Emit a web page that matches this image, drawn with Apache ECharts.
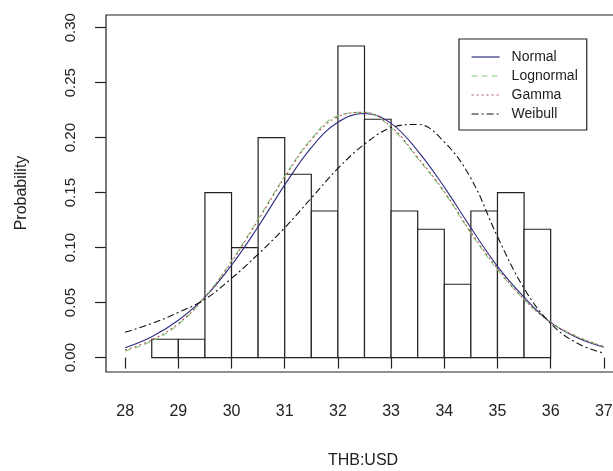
<!DOCTYPE html>
<html>
<head>
<meta charset="utf-8">
<script src="https://cdn.jsdelivr.net/npm/echarts@6/dist/echarts.min.js"></script>
<style>
  html, body { margin: 0; padding: 0; background: #fff; }
  #chart { width: 613px; height: 471px; }
</style>
</head>
<body>
<div id="chart"></div>
<script>
// histogram bins (left edge) and density heights
const binStarts = [28.5, 29, 29.5, 30, 30.5, 31, 31.5, 32, 32.5, 33, 33.5, 34, 34.5, 35, 35.5]
const binWidth = 0.5
const densities = [0.0167, 0.0167, 0.15, 0.1, 0.2, 0.1667, 0.1333, 0.2833, 0.2167, 0.1333, 0.1167, 0.0667, 0.1333, 0.15, 0.1167]

const curveX = [28, 28.5, 29, 29.5, 30, 30.5, 31, 31.5, 32, 32.5, 33, 33.5, 34, 34.5, 35, 35.5, 36, 36.5, 37]
const normalY = [0.009, 0.019, 0.034, 0.055, 0.084, 0.119, 0.157, 0.191, 0.214, 0.222, 0.213, 0.188, 0.155, 0.118, 0.083, 0.055, 0.032, 0.018, 0.0095]
const lognormalY = [0.006, 0.015, 0.030, 0.055, 0.088, 0.126, 0.165, 0.199, 0.220, 0.223, 0.209, 0.181, 0.150, 0.113, 0.080, 0.053, 0.032, 0.019, 0.010]
const gammaY = [0.007, 0.016, 0.031, 0.055, 0.087, 0.125, 0.164, 0.198, 0.219, 0.223, 0.210, 0.182, 0.151, 0.114, 0.081, 0.053, 0.032, 0.019, 0.010]
const weibullY = [0.023, 0.031, 0.041, 0.053, 0.072, 0.094, 0.118, 0.145, 0.172, 0.194, 0.209, 0.212, 0.196, 0.163, 0.110, 0.063, 0.031, 0.013, 0.004]

const xTicks = [28, 29, 30, 31, 32, 33, 34, 35, 36, 37]
const yTicks = [0, 0.05, 0.1, 0.15, 0.2, 0.25, 0.3]

const font = 'Liberation Sans, Arial, sans-serif'
const pairs = ys => curveX.map((x, i) => [x, ys[i]])

const chart = echarts.init(document.getElementById('chart'), null, { renderer: 'canvas' })

const curve = (name, ys, color, type) => ({
  name,
  type: 'line',
  data: pairs(ys),
  smooth: 0.4,
  symbol: 'none',
  z: 5,
  lineStyle: { color, width: 1.1, type },
  itemStyle: { color }
})

chart.setOption({
  animation: false,
  backgroundColor: '#fff',
  grid: {
    left: 106, top: 15, width: 517, height: 357,
    outerBoundsMode: 'none',
    show: true, borderColor: '#222', borderWidth: 1.2, backgroundColor: 'transparent'
  },
  xAxis: {
    type: 'value',
    min: 27.64, max: 37.36,
    axisLine: { show: false },
    splitLine: { show: false },
    axisTick: {
      show: true, length: 11, inside: false,
      customValues: xTicks,
      lineStyle: { color: '#222', width: 1.2 }
    },
    axisLabel: {
      customValues: xTicks,
      margin: 32,
      fontSize: 16, fontFamily: font, color: '#222'
    }
  },
  yAxis: {
    type: 'value',
    min: -0.0131, max: 0.3115,
    axisLine: { show: false },
    splitLine: { show: false },
    axisTick: {
      show: true, length: 11, inside: false,
      customValues: yTicks,
      lineStyle: { color: '#222', width: 1.2 }
    },
    axisLabel: {
      customValues: yTicks,
      rotate: 90,
      margin: 28,
      formatter: v => v.toFixed(2),
      fontSize: 15, fontFamily: font, color: '#222'
    }
  },
  legend: {
    data: ['Normal', 'Lognormal', 'Gamma', 'Weibull'],
    orient: 'vertical',
    left: 459, top: 39,
    padding: [11, 9, 9, 12],
    itemGap: 5,
    itemWidth: 28, itemHeight: 12,
    itemStyle: { opacity: 0 },
    lineStyle: { width: 1.2 },
    borderColor: '#222', borderWidth: 1.2,
    backgroundColor: '#fff',
    textStyle: { fontSize: 14, fontFamily: font, color: '#222', padding: [0, 0, 0, 7] }
  },
  graphic: [
    {
      type: 'text', x: 22, y: 193, rotation: Math.PI / 2,
      style: { text: 'Probability', font: '16px ' + font, fill: '#222', textAlign: 'center', textVerticalAlign: 'middle' }
    },
    {
      type: 'text', x: 363, y: 461,
      style: { text: 'THB:USD', font: '16px ' + font, fill: '#222', textAlign: 'center', textVerticalAlign: 'middle' }
    }
  ],
  series: [
    {
      name: 'hist',
      type: 'custom',
      z: 2,
      data: binStarts.map((s, i) => [s, s + binWidth, densities[i]]),
      encode: { x: [0, 1], y: 2 },
      renderItem: (params, api) => {
        const p0 = api.coord([api.value(0), 0])
        const p1 = api.coord([api.value(1), api.value(2)])
        return {
          type: 'rect',
          shape: { x: p0[0], y: p1[1], width: p1[0] - p0[0], height: p0[1] - p1[1] },
          style: { fill: '#fff', stroke: '#222', lineWidth: 1.2 }
        }
      }
    },
    curve('Normal', normalY, '#2e2e80', 'solid'),
    curve('Lognormal', lognormalY, '#7fcf7f', [6, 4]),
    curve('Gamma', gammaY, '#b05050', [2, 3]),
    curve('Weibull', weibullY, '#111', [7, 3, 2, 3])
  ]
})
</script>
</body>
</html>
